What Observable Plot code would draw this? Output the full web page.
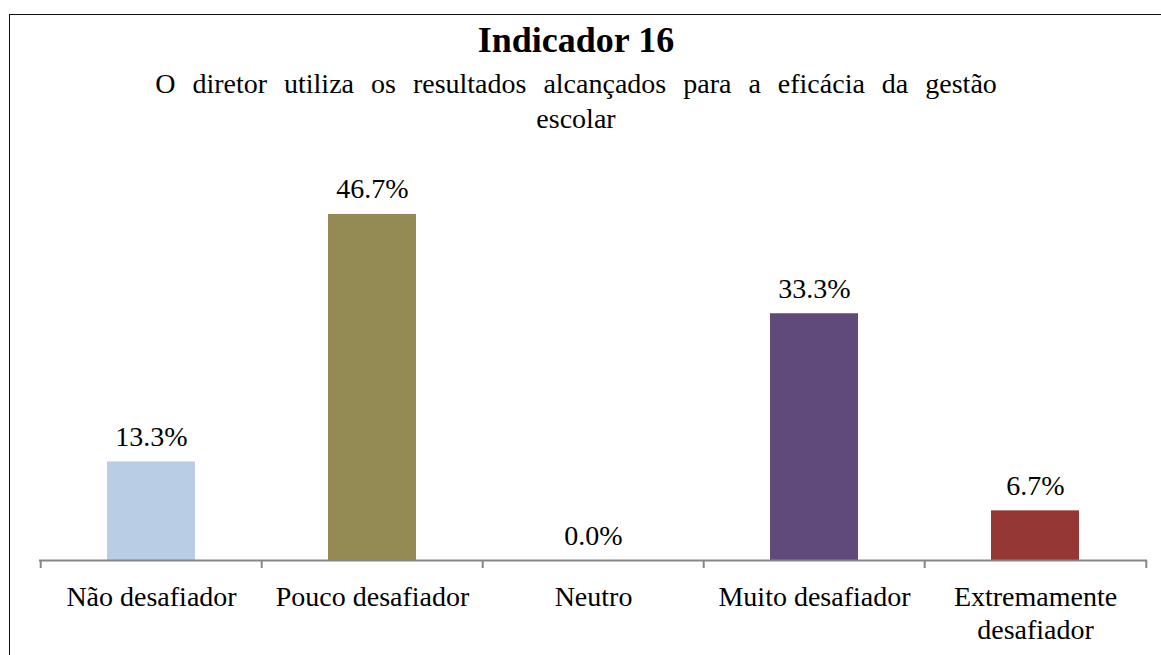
<!DOCTYPE html>
<html>
<head>
<meta charset="utf-8">
<script src="https://cdn.jsdelivr.net/npm/d3@7"></script>
<script src="https://cdn.jsdelivr.net/npm/@observablehq/plot@0.6"></script>
<style>
  html, body { margin: 0; padding: 0; background: #fff; }
  html { overflow: hidden; }
  body { width: 1161px; height: 655px; overflow: hidden; position: relative; font-family: 'Liberation Serif'; }
  #frame { position: absolute; left: 9px; top: 14px; right: -20px; bottom: -20px; border-left: 1.5px solid #111; border-top: 1.5px solid #111; }
  #head { position: absolute; left: 0; top: 0; width: 1152px; height: 135px; text-align: center; color: #000; font-family: 'Liberation Serif'; }
  #title { position: absolute; left: 0; width: 100%; top: 20px; font-weight: bold; font-size: 36px; line-height: 40px; font-family: 'Liberation Serif'; }
  #subtitle { position: absolute; left: 0; width: 100%; top: 66px; font-size: 28px; line-height: 35px; word-spacing: 10px; font-family: 'Liberation Serif'; }
  #chart { position: absolute; left: 0; top: 135px; }
</style>
</head>
<body>
<div id="frame"></div>
<div id="head">
  <div id="title" style="font-family:'Liberation Serif'">Indicador 16</div>
  <div id="subtitle" style="font-family:'Liberation Serif'">O diretor utiliza os resultados alcançados para a eficácia da gestão<br><span style="word-spacing:0">escolar</span></div>
</div>
<div id="chart"></div>
<script>
const categories = ["Não desafiador", "Pouco desafiador", "Neutro", "Muito desafiador", "Extremamente desafiador"];
const values = [13.3, 46.7, 0.0, 33.3, 6.7];
const colors = ["#B9CDE5", "#948A54", "#8EB4E3", "#604A7B", "#953735"];
const tickLabels = ["Não desafiador", "Pouco desafiador", "Neutro", "Muito desafiador", "Extremamente\ndesafiador"];

const data = categories.map((c, i) => ({cat: c, value: values[i], color: colors[i], label: tickLabels[i]}));

const width = 1161, height = 520;
const marginLeft = 39, marginRight = 14, marginTop = 54.5, marginBottom = 95;
const step = (width - marginLeft - marginRight) / categories.length;

const chart = Plot.plot({
  width, height, marginLeft, marginRight, marginTop, marginBottom,
  style: {fontFamily: "'Liberation Serif'", fontSize: "28px", color: "#000", background: "transparent"},
  x: {type: "band", domain: categories, paddingInner: 0.6, paddingOuter: 0.3, axis: null},
  y: {domain: [0, 50], axis: null},
  marks: [
    Plot.barY(data, {x: "cat", y: "value", fill: "color"}),
    Plot.ruleY([0], {stroke: "#868686", strokeWidth: 2}),
    Plot.ruleX(data, {x: "cat", y1: 0, y2: 0, insetBottom: -8, dx: -step / 2, stroke: "#868686", strokeWidth: 2}),
    Plot.ruleX(data.slice(-1), {x: "cat", y1: 0, y2: 0, insetBottom: -8, dx: step / 2, stroke: "#868686", strokeWidth: 2}),
    Plot.text(data, {x: "cat", y: "value", text: d => d.value.toFixed(1) + "%", lineAnchor: "bottom", dy: -16, fill: "#000", fontSize: 28, fontFamily: "Liberation Serif"}),
    Plot.text(data, {x: "cat", y: 0, text: "label", lineAnchor: "top", dy: 23, lineHeight: 1.15, fill: "#000", fontSize: 28, fontFamily: "Liberation Serif"})
  ]
});
document.getElementById("chart").appendChild(chart);
</script>
</body>
</html>
